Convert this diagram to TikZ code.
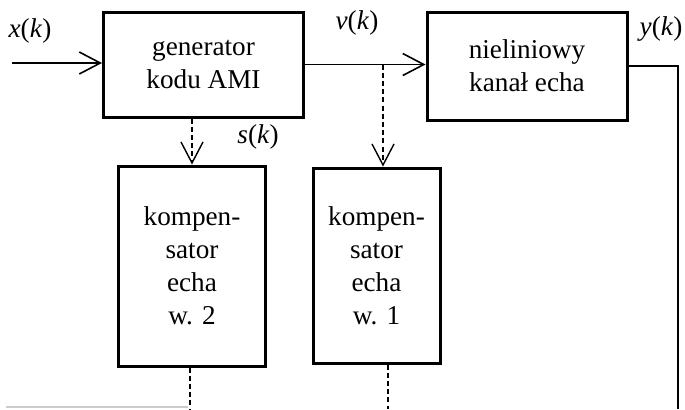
\documentclass[tikz,border=0pt]{standalone}
\usepackage{fontspec}
\setmainfont{Liberation Serif}
\usetikzlibrary{arrows.meta}

\begin{document}
\begin{tikzpicture}[x=0.5pt,y=-0.5pt,
  blok/.style={draw,line width=1.5pt,align=center,inner sep=0pt,
    font=\fontsize{13.6}{16.5}\selectfont},
  sygnal/.style={line width=0.8pt,-{Straight Barb[length=10.5pt,width=11pt]}},
  przerywana/.style={line width=0.7pt,dash pattern=on 2.5pt off 1.6pt},
  etykieta/.style={font=\fontsize{13.6}{16.5}\selectfont,inner sep=1pt}]
\useasboundingbox (0,0) rectangle (685,409);
% bloki
\node[blok,minimum width=100pt,minimum height=52.5pt] (gen) at (203.5,64.5) {generator\\kodu AMI};
\node[blok,minimum width=100pt,minimum height=54pt] (kanal) at (527,66) {nieliniowy\\kana\l{} echa};
\node[blok,minimum width=73.5pt,minimum height=100pt] (komp2) at (192,266) {kompen-\\sator\\echa\\w. 2};
\node[blok,minimum width=63.5pt,minimum height=97.5pt] (komp1) at (376.5,265.5) {kompen-\\sator\\echa\\w. 1};
% punkty pomocnicze
\coordinate (xin) at (12,63);
\coordinate (odg) at (383,0);
\coordinate (dol2) at (190,409);
\coordinate (dol1) at (388,409);
\coordinate (yout) at (678,409);
\coordinate (szaryA) at (6,407);
\coordinate (szaryB) at (188,407);
% polaczenia
\draw[sygnal] (xin) -- (xin -| gen.west);
\draw[sygnal] (gen.east) -- (gen.east -| kanal.west);
\draw[line width=0.8pt] (kanal.east) -| (yout);
\draw[przerywana,-{Straight Barb[length=10.5pt,width=11pt]}] (gen.south -| komp2.north) -- (komp2.north);
\draw[przerywana,-{Straight Barb[length=10.5pt,width=11pt]}] (odg |- gen.east) -- (odg |- komp1.north);
\draw[przerywana] (dol2 |- komp2.south) -- (dol2);
\draw[przerywana] (dol1 |- komp1.south) -- (dol1);
\draw[gray!40,line width=0.8pt] (szaryA) -- (szaryB);
% etykiety
\node[etykieta] (xk) at (30,31) {\textit{x}(\textit{k})};
\node[etykieta] (vk) at (357,23) {\textit{v}(\textit{k})};
\node[etykieta] (sk) at (258,137) {\textit{s}(\textit{k})};
\node[etykieta] (yk) at (661,29) {\textit{y}(\textit{k})};
\end{tikzpicture}
\end{document}
